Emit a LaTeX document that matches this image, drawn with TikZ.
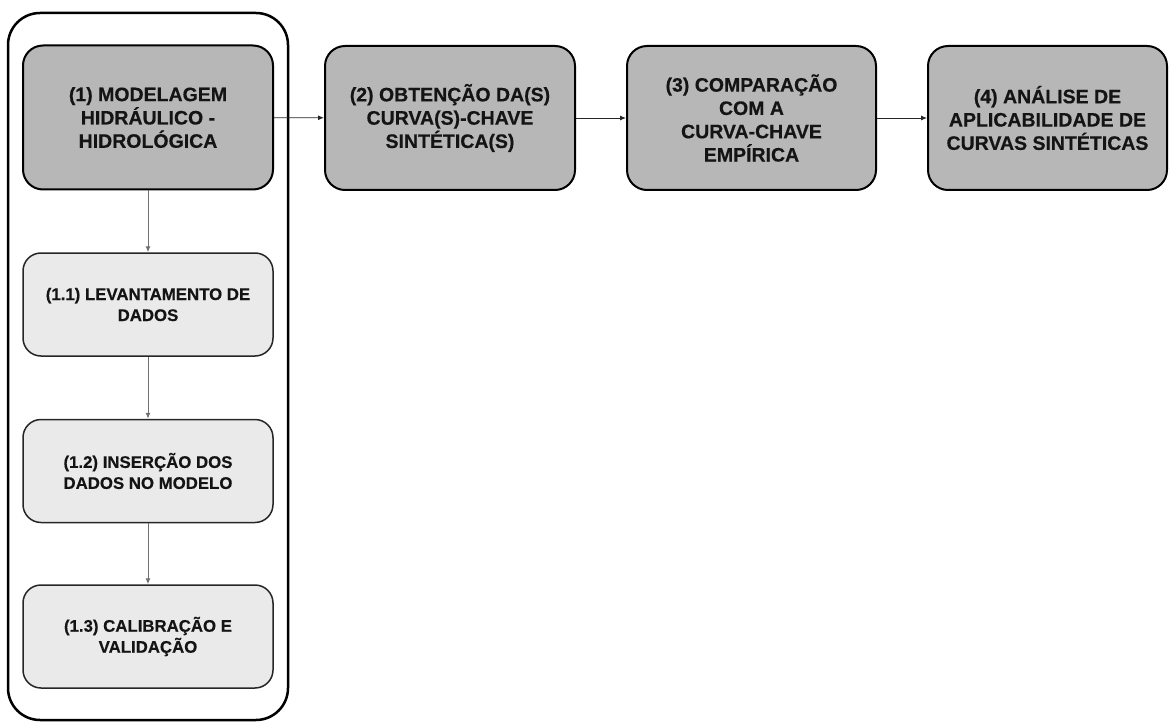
\documentclass[tikz,border=0pt]{standalone}
\usepackage{fontspec}
\setmainfont{Liberation Sans}[BoldFeatures={FakeBold=0.4}]
\usetikzlibrary{arrows.meta}
\definecolor{darkfill}{HTML}{B7B7B7}
\definecolor{lightfill}{HTML}{EAEAEA}
\definecolor{txt}{HTML}{141414}
\definecolor{garrow}{HTML}{707070}
\tikzset{
  mainbox/.style={draw=black, line width=2pt, fill=darkfill, rounded corners=20pt,
    minimum width=250pt, minimum height=144pt, align=center, text=txt,
    font=\fontsize{19.5pt}{23.3pt}\selectfont\bfseries, inner sep=0pt},
  subbox/.style={draw=black!85, line width=1.5pt, fill=lightfill, rounded corners=18pt,
    minimum width=250pt, minimum height=103pt, align=center, text=txt,
    font=\fontsize{16.8pt}{21pt}\selectfont\bfseries, inner sep=0pt},
  container/.style={draw=black, line width=2.5pt, rounded corners=32pt},
  harrow/.style={draw=black!85, line width=0.9pt, -{Latex[length=6pt,width=5pt]}},
  varrow/.style={draw=garrow, line width=1pt, -{Latex[length=6pt,width=5pt]}}
}
\begin{document}
\begin{tikzpicture}[x=1pt,y=-1pt]
\useasboundingbox (0,0) rectangle (1169,722);
\draw[container] (8,13) rectangle (288,720);
\node[mainbox] (m1) at (148,117.5) {(1) MODELAGEM\\HIDRÁULICO -\\HIDROLÓGICA};
\node[mainbox] (m2) at (450,118) {(2) OBTENÇÃO DA(S)\\CURVA(S)-CHAVE\\SINTÉTICA(S)};
\node[mainbox, minimum width=249pt] (m3) at (751.5,118) {(3) COMPARAÇÃO\\COM A\\CURVA-CHAVE\\EMPÍRICA};
\node[mainbox, minimum width=239pt] (m4) at (1047.5,118) {(4) ANÁLISE DE\\APLICABILIDADE DE\\CURVAS SINTÉTICAS};
\node[subbox] (s1) at (148,304.5) {(1.1) LEVANTAMENTO DE\\DADOS};
\node[subbox] (s2) at (148,471) {(1.2) INSERÇÃO DOS\\DADOS NO MODELO};
\node[subbox] (s3) at (148,636.5) {(1.3) CALIBRAÇÃO E\\VALIDAÇÃO};
\draw[harrow] (m1) -- (m2);
\draw[harrow] (m2) -- (m3);
\draw[harrow] (m3) -- (m4);
\draw[varrow] (m1) -- (s1);
\draw[varrow] (s1) -- (s2);
\draw[varrow] (s2) -- (s3);
\end{tikzpicture}
\end{document}
